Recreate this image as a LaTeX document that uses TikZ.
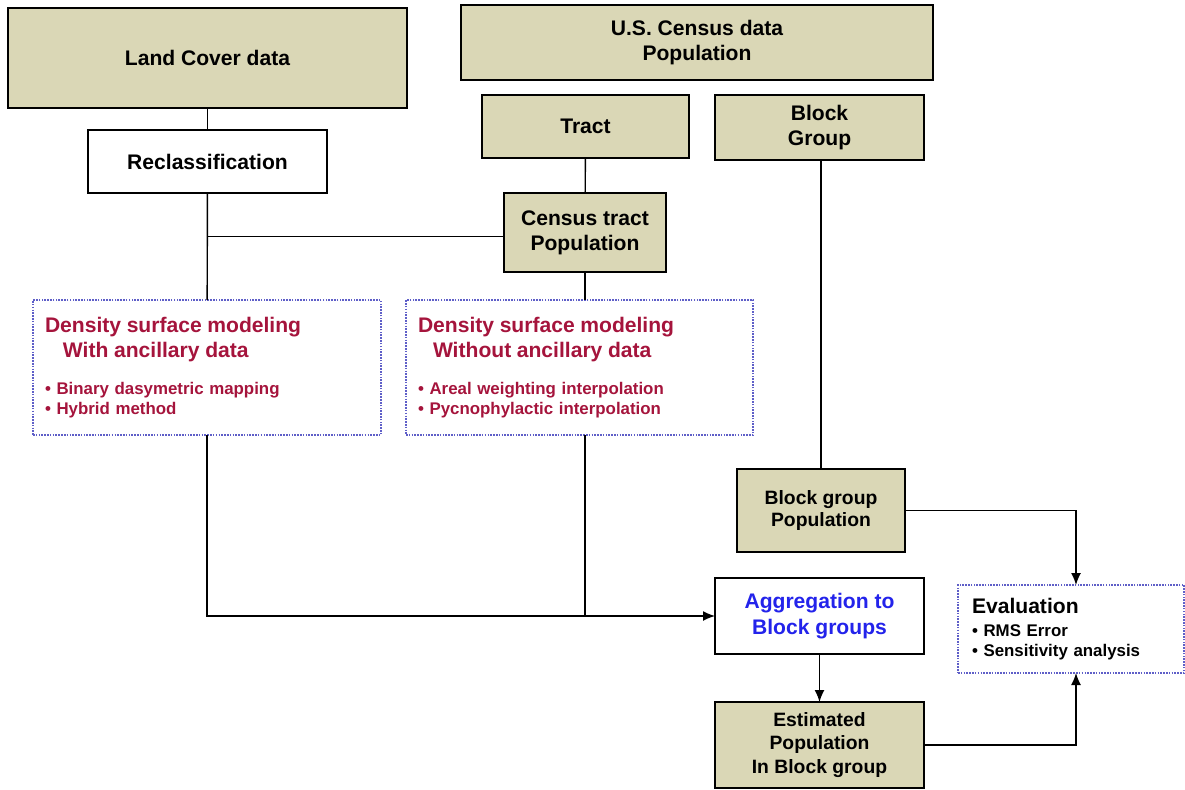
\documentclass[tikz,border=0pt]{standalone}
\usepackage{fontspec}
\setmainfont{Liberation Sans}
\usetikzlibrary{arrows.meta}
\newcommand{\px}{*0.02cm}
\newcommand{\arrowTip}{{Latex[length=12\px, width=10\px]}}
\newcommand{\lineWidth}{0.8pt}
\newcommand{\bigText}{\fontsize{12}{14.2}\selectfont\bfseries}
\newcommand{\midText}{\fontsize{11}{12.8}\selectfont\bfseries}
\newcommand{\listText}{\fontsize{9.6}{11.3}\selectfont\bfseries\lineskiplimit=-20pt}
\definecolor{khaki}{RGB}{218,215,182}
\definecolor{densRed}{RGB}{165,20,60}
\definecolor{aggBlue}{RGB}{35,35,235}
\definecolor{dotBlue}{RGB}{95,95,200}
\tikzstyle{box}=[draw=black, line width=\lineWidth, inner sep=0, outer sep=0, align=center, font=\bigText]
\tikzstyle{data}=[box, fill=khaki]
\tikzstyle{process}=[box, fill=white]
\tikzstyle{method}=[box, draw=dotBlue, line width=1.2pt, dash pattern=on 0.9pt off 0.7pt, align=left, font=\listText]
\tikzstyle{line}=[draw=black, line width=\lineWidth]
\tikzstyle{arrow}=[line, -\arrowTip]

\begin{document}
\begin{tikzpicture}[x=0.02cm, y=-0.02cm]

% Frame
\useasboundingbox (0,0) rectangle (1185,790);

% Input data
\node[data, minimum width=399\px, minimum height=100\px] (landCover) at (207.5,58) {Land Cover data};
\node[process, minimum width=239\px, minimum height=63\px] (reclass) at (207.5,161.5) {Reclassification};
\node[data, minimum width=472\px, minimum height=75\px] (census) at (697,42.5) {U.S. Census data\\Population};
\node[data, minimum width=207\px, minimum height=63\px] (tract) at (585.5,126.5) {Tract};
\node[data, minimum width=209\px, minimum height=65\px] (blockGroup) at (819.5,127.5) {Block\\Group};
\node[data, minimum width=162\px, minimum height=79\px] (tractPop) at (585,232.5) {Census tract\\Population};

% Density surface modeling
\node[method, text=densRed, minimum height=135\px, inner xsep=12\px, text width=324\px] (densWith) at (207,367.5)
  {{\bigText Density surface modeling}\\[2.9pt]
   {\bigText\hspace*{0.36cm}With ancillary data}\\[9.7pt]
   • Binary dasymetric mapping\\
   • Hybrid method};
\node[method, text=densRed, minimum height=135\px, inner xsep=12\px, text width=323\px] (densWithout) at (579.5,367.5)
  {{\bigText Density surface modeling}\\[2.9pt]
   {\bigText\hspace*{0.3cm}Without ancillary data}\\[9.7pt]
   • Areal weighting interpolation\\
   • Pycnophylactic interpolation};

% Block groups
\node[data, minimum width=168\px, minimum height=83\px, font=\midText] (bgPop) at (821,510.5) {Block group\\Population};
\node[process, text=aggBlue, minimum width=209\px, minimum height=76\px, font=\fontsize{12}{14.7}\selectfont\bfseries] (aggr) at (819.5,616) {Aggregation to\\Block groups};
\node[data, minimum width=209\px, minimum height=86\px, font=\fontsize{11}{13.3}\selectfont\bfseries] (estPop) at (819.5,745) {Estimated\\Population\\In Block group};
\node[method, minimum height=88\px, inner xsep=14\px, text width=198\px] (eval) at (1071,629)
  {{\bigText Evaluation}\\[1.7pt]
   • RMS Error\\
   • Sensitivity analysis};

% Connectors
\draw[line] (landCover) -- (reclass);
\draw[line] (reclass) -- (densWith);
\draw[line] (reclass.south |- tractPop.west) ++(0,4) -- ([yshift=-4\px]tractPop.west);
\draw[line] (tract) -- (tractPop);
\draw[line] (tractPop) -- (tractPop |- densWithout.north);
\draw[line] (blockGroup.south -| bgPop.north) -- (bgPop.north);
\draw[arrow] (densWith.south) |- (aggr.west);
\draw[line] (tractPop |- densWithout.south) -- (tractPop |- aggr.west);
\draw[arrow] (aggr) -- (estPop);
\draw[arrow] (bgPop.east) -| ([xshift=5\px]eval.north);
\draw[arrow] (estPop.east) -| ([xshift=5\px]eval.south);

\end{tikzpicture}
\end{document}
